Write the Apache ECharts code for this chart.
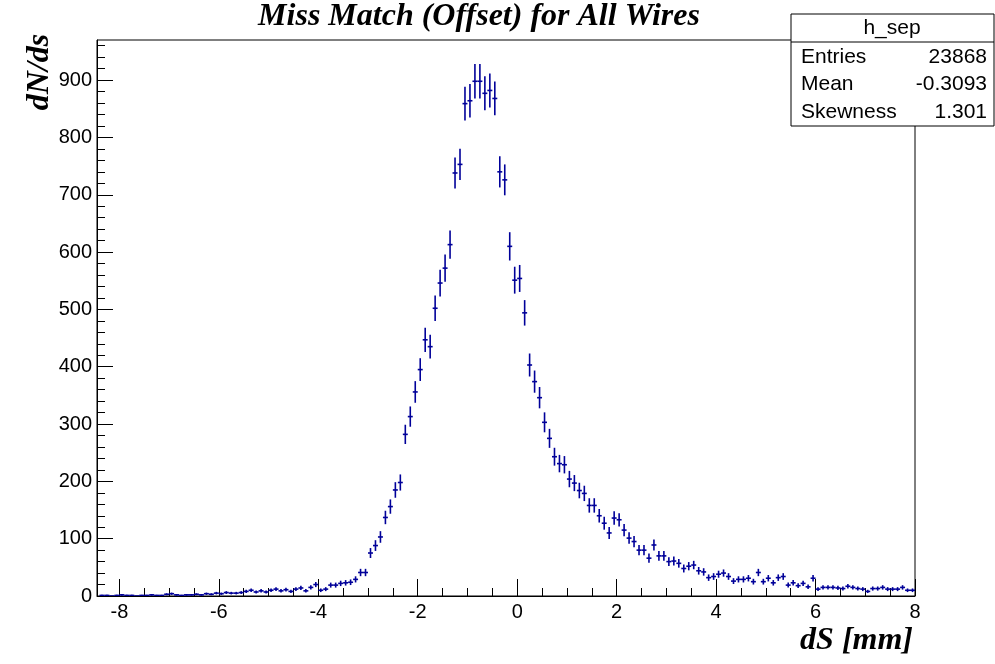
<!DOCTYPE html>
<html>
<head>
<meta charset="utf-8">
<script src="https://cdn.jsdelivr.net/npm/echarts@6/dist/echarts.min.js"></script>
<style>
html,body{margin:0;padding:0;background:#fff;}
#main{width:995px;height:664px;}
</style>
</head>
<body>
<div id="main"></div>
<script>
// ---- data ----
const binStart = -8.35;   // centre of first bin
const binWidth = 0.1;
const counts = [
  1,1,0,1,2,1,1,0,1,1,2,1,1,3,
  4,2,1,2,2,3,2,4,3,5,4,6,5,5,6,8,10,7,9,7,10,12,9,11,8,12,14,9,15,20,
  10,12,19,19,22,23,24,29,41,41,75,88,103,137,156,185,198,282,313,356,
  395,447,435,502,546,572,613,738,753,859,864,898,898,877,882,868,740,726,610,551,
  554,494,403,374,346,303,275,243,231,229,204,197,184,179,158,158,140,127,110,136,
  133,115,101,95,80,80,66,89,70,70,60,61,57,48,52,54,44,42,32,34,
  38,40,34,26,29,29,31,25,41,25,31,23,32,34,19,23,18,22,16,31,
  12,15,15,15,14,13,17,15,13,12,8,13,13,15,12,12,12,15,10,10
];
const xMajorTicks = [-8,-6,-4,-2,0,2,4,6,8];
const xMinorTicks = [-8,-7.5,-7,-6.5,-6,-5.5,-5,-4.5,-4,-3.5,-3,-2.5,-2,-1.5,-1,-0.5,0,0.5,1,1.5,2,2.5,3,3.5,4,4.5,5,5.5,6,6.5,7,7.5,8];
const yMajorTicks = [0,100,200,300,400,500,600,700,800,900];
const yMinorTicks = [0,20,40,60,80,100,120,140,160,180,200,220,240,260,280,300,320,340,360,380,400,420,440,460,480,500,520,540,560,580,600,620,640,660,680,700,720,740,760,780,800,820,840,860,880,900,920,940,960];
const statsName = 'h_sep';
const statsRows = [['Entries','23868'],['Mean','-0.3093'],['Skewness','1.301']];
const titleText = 'Miss Match (Offset) for All Wires';
const xTitle = 'dS [mm]';
const yTitle = 'dN/ds';

const seriesData = counts.map((c, i) => [binStart + i * binWidth, c]);

const COLOR = '#000099';
const SANS = '"Liberation Sans", Arial, Helvetica, sans-serif';
const SERIF = '"Liberation Serif", "Times New Roman", serif';

const chart = echarts.init(document.getElementById('main'), null, {renderer:'canvas'});

const gridL = 97, gridT = 40, gridR = 80, gridB = 68;
const statFont = '21px ' + SANS;

const option = {
  animation: false,
  backgroundColor: '#fff',
  grid: {left: gridL, top: gridT, right: gridR, bottom: gridB, show: true, borderColor: '#000', borderWidth: 1, backgroundColor: 'transparent'},
  xAxis: [{
    type: 'value', min: -8.45, max: 8, position: 'bottom',
    axisLine: {show: true, onZero: false, lineStyle: {color: '#000', width: 1}},
    axisTick: {show: true, inside: true, length: 17, customValues: xMajorTicks, lineStyle: {color: '#000', width: 1}},
    axisLabel: {show: true, customValues: xMajorTicks, color: '#000', fontFamily: SANS, fontSize: 20, margin: 6},
    splitLine: {show: false}
  },{
    type: 'value', min: -8.45, max: 8, position: 'bottom',
    axisLine: {show: false, onZero: false},
    axisTick: {show: true, inside: true, length: 8, customValues: xMinorTicks, lineStyle: {color: '#000', width: 1}},
    axisLabel: {show: false},
    splitLine: {show: false}
  }],
  yAxis: [{
    type: 'value', min: 0, max: 970, position: 'left',
    axisLine: {show: true, onZero: false, lineStyle: {color: '#000', width: 1}},
    axisTick: {show: true, inside: true, length: 16, customValues: yMajorTicks, lineStyle: {color: '#000', width: 1}},
    axisLabel: {show: true, customValues: yMajorTicks, color: '#000', fontFamily: SANS, fontSize: 20, margin: 5},
    splitLine: {show: false}
  },{
    type: 'value', min: 0, max: 970, position: 'left',
    axisLine: {show: false, onZero: false},
    axisTick: {show: true, inside: true, length: 8, customValues: yMinorTicks, lineStyle: {color: '#000', width: 1}},
    axisLabel: {show: false},
    splitLine: {show: false}
  }],
  series: [{
    type: 'custom',
    xAxisIndex: 0, yAxisIndex: 0,
    clip: true,
    data: seriesData,
    renderItem: function (params, api) {
      const x = api.value(0), y = api.value(1);
      const e = Math.sqrt(y);
      const top = api.coord([x, y + e]);
      const bot = api.coord([x, Math.max(0, y - e)]);
      const l = api.coord([x - binWidth / 2, y]);
      const r = api.coord([x + binWidth / 2, y]);
      const st = {stroke: COLOR, lineWidth: 1.6, fill: null};
      const children = [
        {type: 'line', shape: {x1: l[0], y1: l[1], x2: r[0], y2: r[1]}, style: st}
      ];
      if (e > 0) children.push({type: 'line', shape: {x1: top[0], y1: top[1], x2: bot[0], y2: bot[1]}, style: st});
      return {type: 'group', children: children};
    }
  }],
  graphic: [
    {type: 'text', position: [479, 17], style: {text: titleText, font: 'italic bold 32px ' + SERIF, fill: '#000', textAlign: 'center', textVerticalAlign: 'middle'}},
    {type: 'text', position: [40, 72], rotation: Math.PI / 2, style: {text: yTitle, font: 'italic bold 32px ' + SERIF, fill: '#000', textAlign: 'center', textVerticalAlign: 'middle'}},
    {type: 'text', position: [913, 641], style: {text: xTitle, font: 'italic bold 32px ' + SERIF, fill: '#000', textAlign: 'right', textVerticalAlign: 'middle'}},
    {type: 'rect', shape: {x: 791, y: 14, width: 203, height: 112}, style: {fill: '#fff', stroke: '#000', lineWidth: 1}, z: 100},
    {type: 'line', shape: {x1: 791, y1: 42, x2: 994, y2: 42}, style: {stroke: '#000', lineWidth: 1}, z: 101},
    {type: 'text', position: [892, 28], z: 102, style: {text: statsName, font: statFont, fill: '#000', textAlign: 'center', textVerticalAlign: 'middle'}},
    {type: 'text', position: [801, 57], z: 102, style: {text: statsRows[0][0], font: statFont, fill: '#000', textAlign: 'left', textVerticalAlign: 'middle'}},
    {type: 'text', position: [987, 57], z: 102, style: {text: statsRows[0][1], font: statFont, fill: '#000', textAlign: 'right', textVerticalAlign: 'middle'}},
    {type: 'text', position: [801, 84], z: 102, style: {text: statsRows[1][0], font: statFont, fill: '#000', textAlign: 'left', textVerticalAlign: 'middle'}},
    {type: 'text', position: [987, 84], z: 102, style: {text: statsRows[1][1], font: statFont, fill: '#000', textAlign: 'right', textVerticalAlign: 'middle'}},
    {type: 'text', position: [801, 112], z: 102, style: {text: statsRows[2][0], font: statFont, fill: '#000', textAlign: 'left', textVerticalAlign: 'middle'}},
    {type: 'text', position: [987, 112], z: 102, style: {text: statsRows[2][1], font: statFont, fill: '#000', textAlign: 'right', textVerticalAlign: 'middle'}}
  ]
};
chart.setOption(option);
</script>
</body>
</html>
